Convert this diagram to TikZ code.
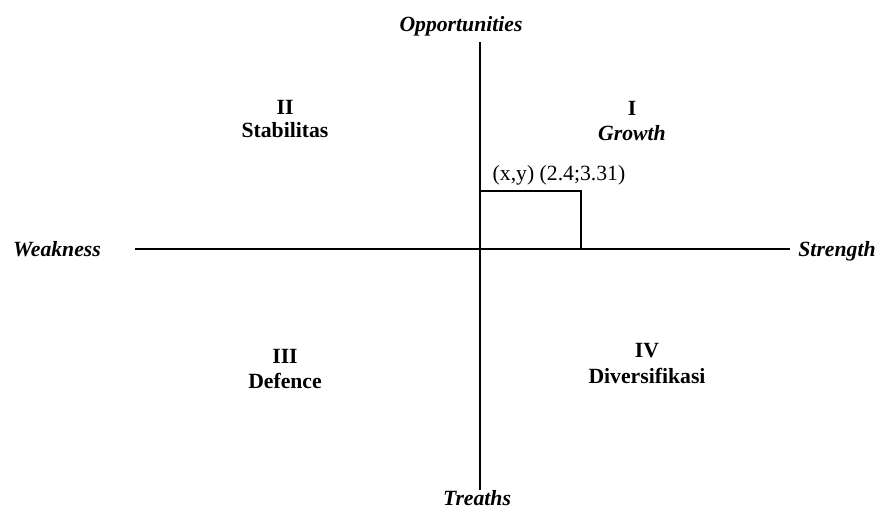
\documentclass[tikz,border=0pt]{standalone}
\usepackage{fontspec}
\setmainfont{Liberation Serif}
\begin{document}
\begin{tikzpicture}[x=1pt,y=-1pt,
  lbl/.style={inner sep=0pt,anchor=base,font=\fontsize{21.7}{24}\selectfont},
  axislbl/.style={lbl,font=\fontsize{21.7}{24}\selectfont\bfseries\itshape},
  quad/.style={lbl,font=\fontsize{21.7}{24}\selectfont\bfseries},
  axis/.style={line width=1.2pt,black}]
\useasboundingbox (0,0) rectangle (877,509);
% axis end points
\coordinate (top) at (480,42);
\coordinate (bot) at (480,490);
\coordinate (lft) at (135,249);
\coordinate (rgt) at (790,249);
\coordinate (o) at (480,249);
\coordinate (p) at (581,191);
\draw[axis] (top) -- (bot);
\draw[axis] (lft) -- (rgt);
\draw[axis] (o |- p) -- (p) -- (p |- o);
% axis labels
\node[axislbl] (opp) at (461,31) {Opportunities};
\node[axislbl] (thr) at (477,505) {Treaths};
\node[axislbl] (weak) at (57,256) {Weakness};
\node[axislbl] (str) at (837,256) {Strength};
% quadrants
\node[quad] (q1n) at (632,115) {I};
\node[axislbl] (q1t) at (632,140) {Growth};
\node[quad] (q2n) at (285,114) {II};
\node[quad] (q2t) at (285,137) {Stabilitas};
\node[quad] (q3n) at (285,363) {III};
\node[quad] (q3t) at (285,388) {Defence};
\node[quad] (q4n) at (647,357) {IV};
\node[quad] (q4t) at (647,383) {Diversifikasi};
% point label
\node[lbl] (pt) at (559,180) {(x,y) (2.4;3.31)};
\end{tikzpicture}
\end{document}
